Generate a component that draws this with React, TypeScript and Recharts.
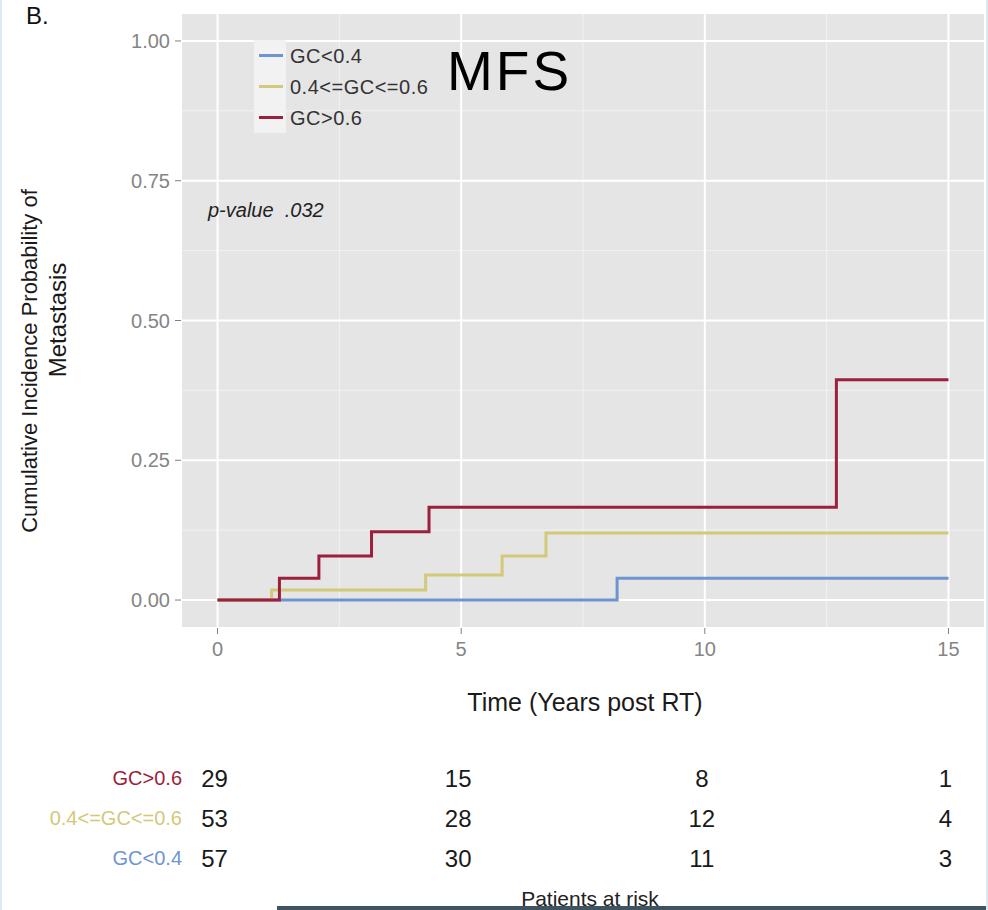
import React from 'react';
import { LineChart, Line, XAxis, YAxis, CartesianGrid, ScatterChart, Scatter } from 'recharts';

const groups = ['GC<0.4', '0.4<=GC<=0.6', 'GC>0.6'];
const groupColors = ['#6E94D2', '#D3C97A', '#9C1F3B'];

// event times (years post RT) and cumulative incidence after each step
const lowTimes = [0, 8.2, 15];
const lowCif = [0, 0.039, 0.039];
const midTimes = [0, 1.11, 4.27, 5.84, 6.74, 15];
const midCif = [0, 0.018, 0.045, 0.079, 0.12, 0.12];
const highTimes = [0, 1.27, 2.08, 3.16, 4.34, 12.7, 15];
const highCif = [0, 0.039, 0.079, 0.122, 0.166, 0.394, 0.394];

const xTicks = [0, 5, 10, 15];
const yTicks = [0, 0.25, 0.5, 0.75, 1];
const xMinor = [2.5, 7.5, 12.5];
const yMinor = [0.125, 0.375, 0.625, 0.875];

// patients at risk
const riskTimes = [0, 5, 10, 15];
const riskLow = [57, 30, 11, 3];
const riskMid = [53, 28, 12, 4];
const riskHigh = [29, 15, 8, 1];

const xDomain = [-0.75, 15.75];
const yDomain = [-0.05, 1.05];

const curves = [
  [lowTimes, lowCif],
  [midTimes, midCif],
  [highTimes, highCif],
].map(([ts, ps], i) => ({
  name: groups[i],
  color: groupColors[i],
  data: ts.map((t, j) => ({ t, p: ps[j] })),
}));

const riskRows = [riskLow, riskMid, riskHigh].map((counts, row) =>
  counts.map((n, j) => ({ t: riskTimes[j], row, n }))
);

const FONT = '"Liberation Sans", Arial, Helvetica, sans-serif';

function scaleOr(axis: any, v: number, lo: number, size: number, dom: number[], flip: boolean) {
  if (axis && typeof axis.scale === 'function') return axis.scale(v);
  const f = (v - dom[0]) / (dom[1] - dom[0]);
  return flip ? lo + size - f * size : lo + f * size;
}

const minorVertical = ({ xAxis, offset }: any) =>
  xMinor.map((v) => scaleOr(xAxis, v, offset.left, offset.width, xDomain, false));
const minorHorizontal = ({ yAxis, offset }: any) =>
  yMinor.map((v) => scaleOr(yAxis, v, offset.top, offset.height, yDomain, true));

const RiskLabel = (props: any) => {
  const { x, y, payload } = props;
  const i = payload.value as number;
  return (
    <text x={x + 1} y={y} dy="0.36em" textAnchor="end" fontSize={20} fill={groupColors[i]}>
      {groups[i]}
    </text>
  );
};

const RiskCount = (props: any) => (
  <text x={props.cx - 3} y={props.cy} dy="0.36em" textAnchor="middle" fontSize={24} fill="#1A1A1A">
    {props.payload.n}
  </text>
);

export default function App() {
  return (
    <div
      style={{
        position: 'absolute',
        left: 0,
        top: 0,
        width: 988,
        height: 910,
        background: '#FFFFFF',
        overflow: 'hidden',
        fontFamily: FONT,
      }}
    >
      <div style={{ position: 'absolute', left: 0, top: 0 }}>
        <LineChart width={988} height={740} margin={{ top: 13, right: 3, left: 121, bottom: 72 }}>
          <CartesianGrid
            fill="#E5E5E5"
            stroke="#F2F2F2"
            strokeWidth={1}
            verticalCoordinatesGenerator={minorVertical}
            horizontalCoordinatesGenerator={minorHorizontal}
          />
          <CartesianGrid stroke="#FFFFFF" strokeWidth={2} />
          <XAxis
            type="number"
            dataKey="t"
            domain={xDomain}
            ticks={xTicks}
            allowDataOverflow
            axisLine={false}
            tickLine={{ stroke: '#7F7F7F' }}
            tickSize={6}
            tickMargin={8}
            height={40}
            tick={{ fill: '#858585', fontSize: 20 }}
          />
          <YAxis
            type="number"
            domain={yDomain}
            ticks={yTicks}
            allowDataOverflow
            axisLine={false}
            tickLine={{ stroke: '#7F7F7F' }}
            tickSize={6}
            tickMargin={5}
            width={60}
            tickFormatter={(v: number) => v.toFixed(2)}
            tick={{ fill: '#858585', fontSize: 20 }}
          />
          {curves.map((c) => (
            <Line
              key={c.name}
              name={c.name}
              data={c.data}
              dataKey="p"
              type="stepAfter"
              stroke={c.color}
              strokeWidth={3}
              dot={false}
              activeDot={false}
              isAnimationActive={false}
            />
          ))}
        </LineChart>
      </div>

      <div style={{ position: 'absolute', left: 0, top: 740 }}>
        <ScatterChart width={988} height={160} margin={{ top: 18, right: 3, left: 121, bottom: 22 }}>
          <XAxis type="number" dataKey="t" domain={xDomain} hide />
          <YAxis
            type="number"
            dataKey="row"
            domain={[-0.5, 2.5]}
            ticks={[0, 1, 2]}
            axisLine={false}
            tickLine={false}
            tickSize={0}
            tickMargin={0}
            width={60}
            tick={<RiskLabel />}
          />
          {riskRows.map((rows, i) => (
            <Scatter key={groups[i]} data={rows} shape={<RiskCount />} isAnimationActive={false} />
          ))}
        </ScatterChart>
      </div>

      <svg
        width={988}
        height={910}
        style={{ position: 'absolute', left: 0, top: 0, pointerEvents: 'none' }}
        fontFamily={FONT}
      >
        <text x={26} y={24} fontSize={24} fill="#111">B.</text>

        {/* legend */}
        <rect x={254} y={40} width={32} height={93} fill="#F2F2F2" />
        {groups.map((g, i) => (
          <g key={g}>
            <line x1={259} x2={283} y1={55.5 + i * 31} y2={55.5 + i * 31} stroke={groupColors[i]} strokeWidth={3} />
            <text x={290} y={55.5 + i * 31} dy="0.36em" fontSize={20} letterSpacing={0.5} fill="#333">
              {g}
            </text>
          </g>
        ))}

        <text x={447} y={90} fontSize={55} letterSpacing={3} fill="#000">MFS</text>
        <text x={208} y={217} fontSize={20} fontStyle="italic" fill="#222" style={{ whiteSpace: 'pre' }}>
          {'p-value  .032'}
        </text>

        <text transform="translate(37,361) rotate(-90)" textAnchor="middle" fontSize={22} fill="#1A1A1A">
          Cumulative Incidence Probability of
        </text>
        <text transform="translate(66,320) rotate(-90)" textAnchor="middle" fontSize={24} fill="#1A1A1A">
          Metastasis
        </text>
        <text x={585} y={711} textAnchor="middle" fontSize={25} fill="#1A1A1A">
          Time (Years post RT)
        </text>

        <text x={590} y={906} textAnchor="middle" fontSize={21} fill="#222">
          Patients at risk
        </text>
        <rect x={277} y={906} width={711} height={4} fill="#3E5460" />
        <rect x={0} y={0} width={2} height={910} fill="#DCEAF1" />
        <rect x={986} y={0} width={2} height={910} fill="#DCEAF1" />
      </svg>
    </div>
  );
}
